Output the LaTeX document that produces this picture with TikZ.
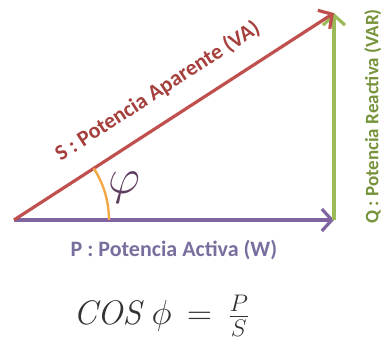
\documentclass[tikz,border=0pt]{standalone}
\usepackage{fontspec}
\newfontfamily\labelfont{Carlito}
\usetikzlibrary{calc, arrows.meta}

\definecolor{pcolor}{HTML}{8064A2}
\definecolor{qcolor}{HTML}{9BBB59}
\definecolor{scolor}{HTML}{C0504D}
\definecolor{arccolor}{HTML}{F3A845}
\definecolor{ptext}{HTML}{7A6E9E}
\definecolor{qtext}{HTML}{77933C}
\definecolor{stext}{HTML}{A5403D}
\definecolor{phicolor}{HTML}{5F3F5F}
\definecolor{formulatext}{HTML}{333333}

\begin{document}
\begin{tikzpicture}[x=.5pt, y=.5pt]
    \tikzstyle{vec} = [line width=1.6pt, -{Straight Barb[length=5pt, width=11pt]}]
    \tikzstyle{labeltext} = [font=\labelfont\bfseries\fontsize{11}{12}\selectfont]

    \useasboundingbox (0, 0) rectangle (388, 340);

    % Corners --------------------------------------------
    \coordinate (O) at (14, 120);
    \coordinate (R) at (334, 120);
    \coordinate (T) at (334, 327);

    % Vectors --------------------------------------------
    \draw [vec, pcolor] (O) -- (R)
        node (plabel) [midway, below=6pt, labeltext, text=ptext] {P : Potencia Activa (W)};
    \draw [vec, qcolor] (R) -- (T)
        node (qlabel) [midway, sloped, below=11pt, labeltext, font=\labelfont\bfseries\fontsize{9.5}{11}\selectfont, text=qtext] {Q : Potencia Reactiva (VAR)};
    \draw [vec, scolor] (O) -- (T)
        node (slabel) [pos=.5, sloped, above=6pt, labeltext, text=stext] {S : Potencia Aparente (VA)};

    % Angle ----------------------------------------------
    \draw [arccolor, line width=1.2pt] ($(O) + (95, 0)$) arc [start angle=0, end angle=32.9, radius=47.5pt];
    \node (phi) at (124, 152) [text=phicolor] {\fontsize{24}{24}\selectfont$\varphi$};

    % Formula
    \node (formula) at (73, 15) [anchor=base west, inner sep=0, text=formulatext] {\fontsize{17}{20}\selectfont$\mathit{COS}\ \phi \,=\, \frac{P}{S}$};
\end{tikzpicture}
\end{document}
